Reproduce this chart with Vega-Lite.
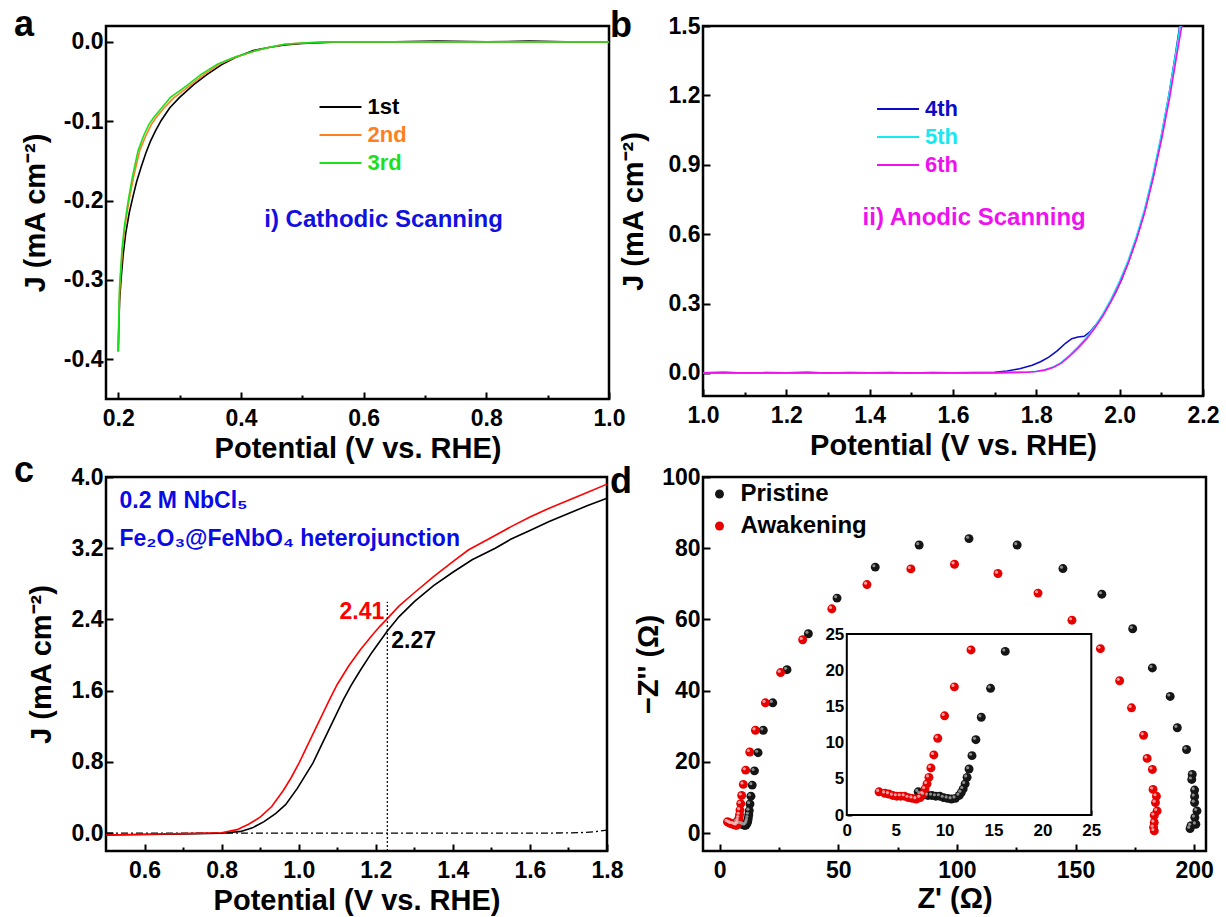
{
  "$schema": "https://vega.github.io/schema/vega-lite/v6.json",
  "background": "white",
  "padding": {"left": 12, "top": 5, "right": 10, "bottom": 5},
  "bounds": "flush",
  "columns": 2,
  "spacing": {"row": 78, "column": 94},
  "resolve": {"scale": {"color": "independent"}, "legend": {"color": "independent"}},
  "datasets": {
    "scanA": [
      {"E":0.200,"J":-0.390,"scan":"1st"},{"E":0.201,"J":-0.355,"scan":"1st"},{"E":0.2023,"J":-0.325,"scan":"1st"},{"E":0.2045,"J":-0.300,"scan":"1st"},{"E":0.208,"J":-0.268,"scan":"1st"},{"E":0.212,"J":-0.242,"scan":"1st"},{"E":0.218,"J":-0.215,"scan":"1st"},{"E":0.224,"J":-0.195,"scan":"1st"},{"E":0.230,"J":-0.176,"scan":"1st"},{"E":0.238,"J":-0.156,"scan":"1st"},{"E":0.245,"J":-0.140,"scan":"1st"},{"E":0.252,"J":-0.126,"scan":"1st"},{"E":0.260,"J":-0.113,"scan":"1st"},{"E":0.270,"J":-0.099,"scan":"1st"},{"E":0.284,"J":-0.083,"scan":"1st"},{"E":0.300,"J":-0.070,"scan":"1st"},{"E":0.323,"J":-0.054,"scan":"1st"},{"E":0.345,"J":-0.041,"scan":"1st"},{"E":0.368,"J":-0.029,"scan":"1st"},{"E":0.390,"J":-0.020,"scan":"1st"},{"E":0.420,"J":-0.011,"scan":"1st"},{"E":0.445,"J":-0.007,"scan":"1st"},{"E":0.471,"J":-0.004,"scan":"1st"},{"E":0.500,"J":-0.002,"scan":"1st"},{"E":0.530,"J":-0.001,"scan":"1st"},{"E":0.560,"J":0.000,"scan":"1st"},{"E":0.650,"J":0.000,"scan":"1st"},{"E":0.720,"J":0.001,"scan":"1st"},{"E":0.800,"J":0.000,"scan":"1st"},{"E":0.870,"J":0.001,"scan":"1st"},{"E":0.930,"J":0.000,"scan":"1st"},{"E":1.000,"J":0.000,"scan":"1st"},
      {"E":0.200,"J":-0.390,"scan":"2nd"},{"E":0.201,"J":-0.345,"scan":"2nd"},{"E":0.2022,"J":-0.315,"scan":"2nd"},{"E":0.204,"J":-0.292,"scan":"2nd"},{"E":0.2068,"J":-0.262,"scan":"2nd"},{"E":0.211,"J":-0.232,"scan":"2nd"},{"E":0.2175,"J":-0.200,"scan":"2nd"},{"E":0.225,"J":-0.170,"scan":"2nd"},{"E":0.235,"J":-0.137,"scan":"2nd"},{"E":0.245,"J":-0.118,"scan":"2nd"},{"E":0.254,"J":-0.104,"scan":"2nd"},{"E":0.262,"J":-0.095,"scan":"2nd"},{"E":0.274,"J":-0.084,"scan":"2nd"},{"E":0.290,"J":-0.071,"scan":"2nd"},{"E":0.315,"J":-0.056,"scan":"2nd"},{"E":0.340,"J":-0.041,"scan":"2nd"},{"E":0.365,"J":-0.028,"scan":"2nd"},{"E":0.392,"J":-0.019,"scan":"2nd"},{"E":0.420,"J":-0.012,"scan":"2nd"},{"E":0.445,"J":-0.007,"scan":"2nd"},{"E":0.471,"J":-0.003,"scan":"2nd"},{"E":0.500,"J":-0.0015,"scan":"2nd"},{"E":0.542,"J":0.000,"scan":"2nd"},{"E":0.600,"J":0.000,"scan":"2nd"},{"E":0.700,"J":0.000,"scan":"2nd"},{"E":0.800,"J":0.000,"scan":"2nd"},{"E":0.900,"J":0.000,"scan":"2nd"},{"E":1.000,"J":0.000,"scan":"2nd"},
      {"E":0.200,"J":-0.390,"scan":"3rd"},{"E":0.201,"J":-0.340,"scan":"3rd"},{"E":0.202,"J":-0.310,"scan":"3rd"},{"E":0.2035,"J":-0.292,"scan":"3rd"},{"E":0.206,"J":-0.262,"scan":"3rd"},{"E":0.210,"J":-0.232,"scan":"3rd"},{"E":0.2162,"J":-0.200,"scan":"3rd"},{"E":0.223,"J":-0.170,"scan":"3rd"},{"E":0.2323,"J":-0.137,"scan":"3rd"},{"E":0.242,"J":-0.117,"scan":"3rd"},{"E":0.250,"J":-0.104,"scan":"3rd"},{"E":0.258,"J":-0.095,"scan":"3rd"},{"E":0.270,"J":-0.084,"scan":"3rd"},{"E":0.285,"J":-0.070,"scan":"3rd"},{"E":0.310,"J":-0.056,"scan":"3rd"},{"E":0.335,"J":-0.041,"scan":"3rd"},{"E":0.3615,"J":-0.028,"scan":"3rd"},{"E":0.390,"J":-0.019,"scan":"3rd"},{"E":0.420,"J":-0.012,"scan":"3rd"},{"E":0.445,"J":-0.007,"scan":"3rd"},{"E":0.471,"J":-0.003,"scan":"3rd"},{"E":0.500,"J":-0.0015,"scan":"3rd"},{"E":0.542,"J":0.000,"scan":"3rd"},{"E":0.600,"J":0.000,"scan":"3rd"},{"E":0.700,"J":0.000,"scan":"3rd"},{"E":0.800,"J":0.000,"scan":"3rd"},{"E":0.900,"J":0.000,"scan":"3rd"},{"E":1.000,"J":0.000,"scan":"3rd"}
    ],
    "scanB": [
      {"E":1.00,"J":0.000,"scan":"4th"},{"E":1.05,"J":0.002,"scan":"4th"},{"E":1.10,"J":-0.001,"scan":"4th"},{"E":1.15,"J":0.001,"scan":"4th"},{"E":1.20,"J":0.000,"scan":"4th"},{"E":1.25,"J":0.002,"scan":"4th"},{"E":1.30,"J":-0.001,"scan":"4th"},{"E":1.35,"J":0.001,"scan":"4th"},{"E":1.40,"J":0.000,"scan":"4th"},{"E":1.45,"J":0.001,"scan":"4th"},{"E":1.50,"J":-0.001,"scan":"4th"},{"E":1.55,"J":0.001,"scan":"4th"},{"E":1.60,"J":0.000,"scan":"4th"},{"E":1.65,"J":0.001,"scan":"4th"},{"E":1.70,"J":0.003,"scan":"4th"},{"E":1.73,"J":0.008,"scan":"4th"},{"E":1.76,"J":0.018,"scan":"4th"},{"E":1.79,"J":0.033,"scan":"4th"},{"E":1.81,"J":0.048,"scan":"4th"},{"E":1.83,"J":0.068,"scan":"4th"},{"E":1.85,"J":0.095,"scan":"4th"},{"E":1.87,"J":0.128,"scan":"4th"},{"E":1.885,"J":0.148,"scan":"4th"},{"E":1.90,"J":0.155,"scan":"4th"},{"E":1.915,"J":0.158,"scan":"4th"},{"E":1.93,"J":0.180,"scan":"4th"},{"E":1.945,"J":0.212,"scan":"4th"},{"E":1.96,"J":0.252,"scan":"4th"},{"E":1.975,"J":0.297,"scan":"4th"},{"E":1.99,"J":0.347,"scan":"4th"},{"E":2.005,"J":0.405,"scan":"4th"},{"E":2.02,"J":0.475,"scan":"4th"},{"E":2.04,"J":0.580,"scan":"4th"},{"E":2.06,"J":0.700,"scan":"4th"},{"E":2.08,"J":0.845,"scan":"4th"},{"E":2.10,"J":1.020,"scan":"4th"},{"E":2.12,"J":1.220,"scan":"4th"},{"E":2.135,"J":1.390,"scan":"4th"},{"E":2.145,"J":1.510,"scan":"4th"},
      {"E":1.00,"J":0.000,"scan":"5th"},{"E":1.10,"J":0.000,"scan":"5th"},{"E":1.20,"J":0.000,"scan":"5th"},{"E":1.30,"J":0.000,"scan":"5th"},{"E":1.40,"J":0.000,"scan":"5th"},{"E":1.50,"J":0.000,"scan":"5th"},{"E":1.60,"J":0.000,"scan":"5th"},{"E":1.70,"J":0.000,"scan":"5th"},{"E":1.75,"J":0.002,"scan":"5th"},{"E":1.78,"J":0.004,"scan":"5th"},{"E":1.80,"J":0.007,"scan":"5th"},{"E":1.82,"J":0.013,"scan":"5th"},{"E":1.84,"J":0.025,"scan":"5th"},{"E":1.86,"J":0.045,"scan":"5th"},{"E":1.88,"J":0.077,"scan":"5th"},{"E":1.90,"J":0.113,"scan":"5th"},{"E":1.92,"J":0.152,"scan":"5th"},{"E":1.94,"J":0.200,"scan":"5th"},{"E":1.96,"J":0.256,"scan":"5th"},{"E":1.98,"J":0.322,"scan":"5th"},{"E":2.00,"J":0.398,"scan":"5th"},{"E":2.02,"J":0.485,"scan":"5th"},{"E":2.04,"J":0.590,"scan":"5th"},{"E":2.06,"J":0.710,"scan":"5th"},{"E":2.08,"J":0.860,"scan":"5th"},{"E":2.10,"J":1.030,"scan":"5th"},{"E":2.12,"J":1.220,"scan":"5th"},{"E":2.14,"J":1.440,"scan":"5th"},{"E":2.147,"J":1.520,"scan":"5th"},
      {"E":1.00,"J":0.000,"scan":"6th"},{"E":1.10,"J":0.000,"scan":"6th"},{"E":1.20,"J":0.000,"scan":"6th"},{"E":1.30,"J":0.000,"scan":"6th"},{"E":1.40,"J":0.000,"scan":"6th"},{"E":1.50,"J":0.000,"scan":"6th"},{"E":1.60,"J":0.000,"scan":"6th"},{"E":1.70,"J":0.000,"scan":"6th"},{"E":1.75,"J":0.002,"scan":"6th"},{"E":1.78,"J":0.003,"scan":"6th"},{"E":1.80,"J":0.006,"scan":"6th"},{"E":1.82,"J":0.012,"scan":"6th"},{"E":1.84,"J":0.023,"scan":"6th"},{"E":1.86,"J":0.042,"scan":"6th"},{"E":1.88,"J":0.072,"scan":"6th"},{"E":1.90,"J":0.107,"scan":"6th"},{"E":1.92,"J":0.146,"scan":"6th"},{"E":1.94,"J":0.193,"scan":"6th"},{"E":1.96,"J":0.247,"scan":"6th"},{"E":1.98,"J":0.311,"scan":"6th"},{"E":2.00,"J":0.386,"scan":"6th"},{"E":2.02,"J":0.472,"scan":"6th"},{"E":2.04,"J":0.575,"scan":"6th"},{"E":2.06,"J":0.693,"scan":"6th"},{"E":2.08,"J":0.840,"scan":"6th"},{"E":2.10,"J":1.005,"scan":"6th"},{"E":2.12,"J":1.190,"scan":"6th"},{"E":2.14,"J":1.405,"scan":"6th"},{"E":2.152,"J":1.530,"scan":"6th"}
    ],
    "jv": [
      {"E":0.5,"J":-0.02,"sample":"Pristine"},{"E":0.6,"J":-0.015,"sample":"Pristine"},{"E":0.7,"J":-0.008,"sample":"Pristine"},{"E":0.8,"J":0.0,"sample":"Pristine"},{"E":0.85,"J":0.02,"sample":"Pristine"},{"E":0.88,"J":0.06,"sample":"Pristine"},{"E":0.91,"J":0.13,"sample":"Pristine"},{"E":0.94,"J":0.22,"sample":"Pristine"},{"E":0.966,"J":0.32,"sample":"Pristine"},{"E":0.996,"J":0.5,"sample":"Pristine"},{"E":1.016,"J":0.64,"sample":"Pristine"},{"E":1.036,"J":0.78,"sample":"Pristine"},{"E":1.056,"J":0.96,"sample":"Pristine"},{"E":1.076,"J":1.14,"sample":"Pristine"},{"E":1.096,"J":1.32,"sample":"Pristine"},{"E":1.116,"J":1.5,"sample":"Pristine"},{"E":1.136,"J":1.66,"sample":"Pristine"},{"E":1.16,"J":1.83,"sample":"Pristine"},{"E":1.19,"J":2.03,"sample":"Pristine"},{"E":1.21,"J":2.15,"sample":"Pristine"},{"E":1.23,"J":2.27,"sample":"Pristine"},{"E":1.26,"J":2.43,"sample":"Pristine"},{"E":1.3,"J":2.6,"sample":"Pristine"},{"E":1.35,"J":2.78,"sample":"Pristine"},{"E":1.4,"J":2.93,"sample":"Pristine"},{"E":1.45,"J":3.07,"sample":"Pristine"},{"E":1.51,"J":3.2,"sample":"Pristine"},{"E":1.55,"J":3.3,"sample":"Pristine"},{"E":1.6,"J":3.4,"sample":"Pristine"},{"E":1.65,"J":3.5,"sample":"Pristine"},{"E":1.7,"J":3.59,"sample":"Pristine"},{"E":1.75,"J":3.68,"sample":"Pristine"},{"E":1.8,"J":3.76,"sample":"Pristine"},
      {"E":0.5,"J":-0.02,"sample":"Awakening"},{"E":0.6,"J":-0.012,"sample":"Awakening"},{"E":0.7,"J":-0.005,"sample":"Awakening"},{"E":0.8,"J":0.005,"sample":"Awakening"},{"E":0.84,"J":0.04,"sample":"Awakening"},{"E":0.87,"J":0.1,"sample":"Awakening"},{"E":0.9,"J":0.18,"sample":"Awakening"},{"E":0.93,"J":0.3,"sample":"Awakening"},{"E":0.96,"J":0.48,"sample":"Awakening"},{"E":0.98,"J":0.62,"sample":"Awakening"},{"E":1.0,"J":0.78,"sample":"Awakening"},{"E":1.02,"J":0.96,"sample":"Awakening"},{"E":1.04,"J":1.14,"sample":"Awakening"},{"E":1.06,"J":1.32,"sample":"Awakening"},{"E":1.08,"J":1.5,"sample":"Awakening"},{"E":1.1,"J":1.67,"sample":"Awakening"},{"E":1.13,"J":1.88,"sample":"Awakening"},{"E":1.16,"J":2.06,"sample":"Awakening"},{"E":1.19,"J":2.22,"sample":"Awakening"},{"E":1.21,"J":2.32,"sample":"Awakening"},{"E":1.23,"J":2.41,"sample":"Awakening"},{"E":1.26,"J":2.55,"sample":"Awakening"},{"E":1.3,"J":2.7,"sample":"Awakening"},{"E":1.35,"J":2.88,"sample":"Awakening"},{"E":1.4,"J":3.05,"sample":"Awakening"},{"E":1.44,"J":3.18,"sample":"Awakening"},{"E":1.5,"J":3.32,"sample":"Awakening"},{"E":1.55,"J":3.44,"sample":"Awakening"},{"E":1.6,"J":3.55,"sample":"Awakening"},{"E":1.65,"J":3.65,"sample":"Awakening"},{"E":1.7,"J":3.74,"sample":"Awakening"},{"E":1.75,"J":3.83,"sample":"Awakening"},{"E":1.8,"J":3.92,"sample":"Awakening"}
    ],
    "dark": [
      {"E":0.5,"J":0.0},{"E":0.8,"J":0.0},{"E":1.0,"J":0.0},{"E":1.2,"J":0.0},{"E":1.4,"J":0.0},{"E":1.6,"J":0.0},{"E":1.7,"J":0.003},{"E":1.74,"J":0.008},{"E":1.77,"J":0.018},{"E":1.8,"J":0.035}
    ],
    "eis": [
      {"re":7.3,"im":3.2,"sample":"Pristine"},{"re":7.5,"im":2.9,"sample":"Pristine"},{"re":7.9,"im":2.8,"sample":"Pristine"},{"re":8.3,"im":2.7,"sample":"Pristine"},{"re":8.7,"im":2.7,"sample":"Pristine"},{"re":9.1,"im":2.6,"sample":"Pristine"},{"re":9.5,"im":2.6,"sample":"Pristine"},{"re":9.9,"im":2.4,"sample":"Pristine"},{"re":10.3,"im":2.3,"sample":"Pristine"},{"re":10.7,"im":2.2,"sample":"Pristine"},{"re":11.1,"im":2.3,"sample":"Pristine"},{"re":11.5,"im":2.7,"sample":"Pristine"},{"re":11.7,"im":3.1,"sample":"Pristine"},{"re":11.9,"im":3.6,"sample":"Pristine"},{"re":12.1,"im":4.3,"sample":"Pristine"},{"re":12.3,"im":5.2,"sample":"Pristine"},{"re":12.5,"im":6.35,"sample":"Pristine"},{"re":12.8,"im":8.2,"sample":"Pristine"},{"re":13.2,"im":10.4,"sample":"Pristine"},{"re":13.75,"im":13.5,"sample":"Pristine"},{"re":14.7,"im":17.5,"sample":"Pristine"},{"re":16.2,"im":22.6,"sample":"Pristine"},{"re":18.4,"im":28.9,"sample":"Pristine"},{"re":22.4,"im":36.6,"sample":"Pristine"},{"re":28.4,"im":45.9,"sample":"Pristine"},{"re":37.4,"im":56.0,"sample":"Pristine"},{"re":49.5,"im":66.0,"sample":"Pristine"},{"re":65.6,"im":74.7,"sample":"Pristine"},{"re":84.1,"im":80.9,"sample":"Pristine"},{"re":105.1,"im":82.7,"sample":"Pristine"},{"re":125.4,"im":80.9,"sample":"Pristine"},{"re":144.7,"im":74.3,"sample":"Pristine"},{"re":161.1,"im":67.1,"sample":"Pristine"},{"re":174.1,"im":57.4,"sample":"Pristine"},{"re":182.4,"im":46.4,"sample":"Pristine"},{"re":189.9,"im":38.4,"sample":"Pristine"},{"re":192.9,"im":29.6,"sample":"Pristine"},{"re":196.8,"im":23.5,"sample":"Pristine"},{"re":199.2,"im":16.5,"sample":"Pristine"},{"re":199.0,"im":15.1,"sample":"Pristine"},{"re":200.2,"im":12.1,"sample":"Pristine"},{"re":200.2,"im":10.3,"sample":"Pristine"},{"re":200.2,"im":8.6,"sample":"Pristine"},{"re":201.2,"im":6.25,"sample":"Pristine"},{"re":200.3,"im":4.4,"sample":"Pristine"},{"re":200.7,"im":2.5,"sample":"Pristine"},{"re":198.7,"im":2.1,"sample":"Pristine"},{"re":198.3,"im":1.3,"sample":"Pristine"},
      {"re":3.3,"im":3.2,"sample":"Awakening"},{"re":3.9,"im":3.0,"sample":"Awakening"},{"re":4.3,"im":2.9,"sample":"Awakening"},{"re":4.7,"im":2.7,"sample":"Awakening"},{"re":5.1,"im":2.6,"sample":"Awakening"},{"re":5.5,"im":2.6,"sample":"Awakening"},{"re":5.9,"im":2.6,"sample":"Awakening"},{"re":6.3,"im":2.4,"sample":"Awakening"},{"re":6.7,"im":2.3,"sample":"Awakening"},{"re":7.1,"im":2.2,"sample":"Awakening"},{"re":7.5,"im":2.4,"sample":"Awakening"},{"re":7.8,"im":2.9,"sample":"Awakening"},{"re":8.0,"im":3.6,"sample":"Awakening"},{"re":8.2,"im":4.3,"sample":"Awakening"},{"re":8.4,"im":5.2,"sample":"Awakening"},{"re":8.6,"im":6.5,"sample":"Awakening"},{"re":8.9,"im":8.3,"sample":"Awakening"},{"re":9.3,"im":10.6,"sample":"Awakening"},{"re":10.0,"im":13.7,"sample":"Awakening"},{"re":11.0,"im":17.7,"sample":"Awakening"},{"re":12.7,"im":22.8,"sample":"Awakening"},{"re":15.1,"im":28.9,"sample":"Awakening"},{"re":19.3,"im":36.6,"sample":"Awakening"},{"re":25.7,"im":45.1,"sample":"Awakening"},{"re":35.0,"im":54.3,"sample":"Awakening"},{"re":47.3,"im":63.0,"sample":"Awakening"},{"re":62.1,"im":69.8,"sample":"Awakening"},{"re":80.6,"im":74.2,"sample":"Awakening"},{"re":99.0,"im":75.5,"sample":"Awakening"},{"re":117.3,"im":72.9,"sample":"Awakening"},{"re":134.2,"im":67.4,"sample":"Awakening"},{"re":148.5,"im":59.8,"sample":"Awakening"},{"re":160.5,"im":51.8,"sample":"Awakening"},{"re":168.6,"im":42.8,"sample":"Awakening"},{"re":173.6,"im":35.2,"sample":"Awakening"},{"re":178.7,"im":27.5,"sample":"Awakening"},{"re":180.2,"im":21.0,"sample":"Awakening"},{"re":182.4,"im":17.9,"sample":"Awakening"},{"re":182.7,"im":12.3,"sample":"Awakening"},{"re":184.1,"im":10.4,"sample":"Awakening"},{"re":183.7,"im":8.6,"sample":"Awakening"},{"re":184.4,"im":6.25,"sample":"Awakening"},{"re":183.2,"im":5.0,"sample":"Awakening"},{"re":183.2,"im":3.0,"sample":"Awakening"},{"re":182.9,"im":1.6,"sample":"Awakening"},{"re":183.2,"im":0.65,"sample":"Awakening"}
    ]
  },
  "concat": [
    {
      "width": 503,
      "height": 373,
      "title": {"text": "a", "dx": -92, "offset": -18},
      "layer": [
        {
          "data": {"name": "scanA"},
          "mark": {"type": "line", "strokeWidth": 1.6, "clip": true},
          "encoding": {
            "x": {"field": "E", "type": "quantitative", "scale": {"domain": [0.18, 1.0], "nice": false, "zero": false},
                  "axis": {"orient": "bottom", "values": [0.2, 0.4, 0.6, 0.8, 1.0], "format": ".1f", "title": "Potential (V vs. RHE)", "titleY": 58, "titleBaseline": "alphabetic"}},
            "y": {"field": "J", "type": "quantitative", "scale": {"domain": [-0.45, 0.02], "nice": false, "zero": false},
                  "axis": {"orient": "left", "values": [0, -0.1, -0.2, -0.3, -0.4], "labelExpr": "replace(format(datum.value, '.1f'), '\u2212', '-')", "title": "J (mA cm⁻²)", "titleX": -62, "titleBaseline": "alphabetic"}},
            "color": {"field": "scan", "type": "nominal",
                      "scale": {"domain": ["1st", "2nd", "3rd"], "range": ["#000000", "#ff7f1e", "#1edf1e"]},
                      "legend": {"orient": "none", "legendX": 223.5, "legendY": 70, "title": null,
                                 "symbolType": "M -4 0 L 4 0", "symbolSize": 110, "symbolStrokeWidth": 2,
                                 "labelFontSize": 22, "labelOffset": 16, "rowPadding": 6,
                                 "encode": {"labels": {"update": {"fill": {"signal": "datum.label === '1st' ? '#000000' : datum.label === '2nd' ? '#ff7f1e' : '#1edf1e'"}}}}}}
          }
        },
        {
          "data": {"values": [{}]},
          "mark": {"type": "text", "text": "i) Cathodic Scanning", "align": "left", "baseline": "middle", "fontSize": 24, "color": "#1010e0"},
          "encoding": {
            "x": {"datum": 0.438, "type": "quantitative", "scale": {"domain": [0.18, 1.0], "nice": false, "zero": false},
                  "axis": {"orient": "bottom", "values": [0.3, 0.5, 0.7, 0.9], "labels": false, "tickSize": -4, "title": null}},
            "y": {"datum": -0.225, "type": "quantitative", "scale": {"domain": [-0.45, 0.02], "nice": false, "zero": false}, "axis": null}
          }
        }
      ],
      "resolve": {"axis": {"x": "independent", "y": "independent"}}
    },
    {
      "width": 500,
      "height": 370,
      "title": {"text": "b", "dx": -93, "offset": -30},
      "layer": [
        {
          "data": {"name": "scanB"},
          "mark": {"type": "line", "strokeWidth": 1.6, "clip": true},
          "encoding": {
            "x": {"field": "E", "type": "quantitative", "scale": {"domain": [1.0, 2.2], "nice": false, "zero": false},
                  "axis": {"orient": "bottom", "values": [1.0, 1.2, 1.4, 1.6, 1.8, 2.0, 2.2], "format": ".1f", "title": "Potential (V vs. RHE)", "titleY": 58, "titleBaseline": "alphabetic"}},
            "y": {"field": "J", "type": "quantitative", "scale": {"domain": [-0.1, 1.5], "nice": false, "zero": false},
                  "axis": {"orient": "left", "values": [0, 0.3, 0.6, 0.9, 1.2, 1.5], "format": ".1f", "title": "J (mA cm⁻²)", "titleX": -61, "titleBaseline": "alphabetic"}},
            "color": {"field": "scan", "type": "nominal",
                      "scale": {"domain": ["4th", "5th", "6th"], "range": ["#0c0cc8", "#18e8f0", "#ef12ef"]},
                      "legend": {"orient": "none", "legendX": 184, "legendY": 72, "title": null,
                                 "symbolType": "M -4 0 L 4 0", "symbolSize": 110, "symbolStrokeWidth": 2,
                                 "labelFontSize": 22, "labelOffset": 16, "rowPadding": 6,
                                 "encode": {"labels": {"update": {"fill": {"signal": "datum.label === '4th' ? '#0c0cc8' : datum.label === '5th' ? '#18e8f0' : '#ef12ef'"}}}}}}
          }
        },
        {
          "data": {"values": [{}]},
          "mark": {"type": "text", "text": "ii) Anodic Scanning", "align": "left", "baseline": "middle", "fontSize": 24, "color": "#ef12ef"},
          "encoding": {
            "x": {"datum": 1.383, "type": "quantitative", "scale": {"domain": [1.0, 2.2], "nice": false, "zero": false},
                  "axis": {"orient": "bottom", "values": [1.1, 1.3, 1.5, 1.7, 1.9, 2.1], "labels": false, "tickSize": -4, "title": null}},
            "y": {"datum": 0.668, "type": "quantitative", "scale": {"domain": [-0.1, 1.5], "nice": false, "zero": false}, "axis": null}
          }
        }
      ],
      "resolve": {"axis": {"x": "independent", "y": "independent"}}
    },
    {
      "width": 501,
      "height": 374,
      "title": {"text": "c", "dx": -92, "offset": -24},
      "layer": [
        {
          "data": {"name": "dark"},
          "mark": {"type": "line", "strokeWidth": 1.3, "color": "#000000", "strokeDash": [7, 3, 2, 3]},
          "encoding": {
            "x": {"field": "E", "type": "quantitative", "scale": {"domain": [0.5, 1.8], "nice": false, "zero": false},
                  "axis": {"orient": "bottom", "values": [0.7, 0.9, 1.1, 1.3, 1.5, 1.7], "labels": false, "tickSize": -4, "title": null}},
            "y": {"field": "J", "type": "quantitative", "scale": {"domain": [-0.2, 4.0], "nice": false, "zero": false}, "axis": null}
          }
        },
        {
          "data": {"name": "jv"},
          "mark": {"type": "line", "strokeWidth": 1.6},
          "encoding": {
            "x": {"field": "E", "type": "quantitative", "scale": {"domain": [0.5, 1.8], "nice": false, "zero": false},
                  "axis": {"orient": "bottom", "values": [0.6, 0.8, 1.0, 1.2, 1.4, 1.6, 1.8], "format": ".1f", "title": "Potential (V vs. RHE)", "titleY": 58, "titleBaseline": "alphabetic"}},
            "y": {"field": "J", "type": "quantitative", "scale": {"domain": [-0.2, 4.0], "nice": false, "zero": false},
                  "axis": {"orient": "left", "values": [0, 0.8, 1.6, 2.4, 3.2, 4.0], "format": ".1f", "title": "J (mA cm⁻²)", "titleX": -56, "titleBaseline": "alphabetic"}},
            "color": {"field": "sample", "type": "nominal", "scale": {"domain": ["Pristine", "Awakening"], "range": ["#000000", "#ff0000"]}, "legend": null}
          }
        },
        {
          "data": {"values": [{}]},
          "mark": {"type": "rule", "strokeWidth": 1.2, "strokeDash": [2, 2], "color": "#000000"},
          "encoding": {
            "x": {"datum": 1.23, "type": "quantitative", "scale": {"domain": [0.5, 1.8], "nice": false, "zero": false}, "axis": null},
            "y": {"datum": -0.2, "type": "quantitative", "scale": {"domain": [-0.2, 4.0], "nice": false, "zero": false}, "axis": null},
            "y2": {"datum": 2.6}
          }
        },
        {
          "data": {"name": "jv"},
          "transform": [{"filter": "datum.E === 1.23 && datum.sample === 'Awakening'"}],
          "mark": {"type": "text", "align": "right", "baseline": "middle", "dx": -3, "dy": -7, "fontSize": 23, "color": "#ff0000"},
          "encoding": {
            "x": {"field": "E", "type": "quantitative", "scale": {"domain": [0.5, 1.8], "nice": false, "zero": false}, "axis": null},
            "y": {"field": "J", "type": "quantitative", "scale": {"domain": [-0.2, 4.0], "nice": false, "zero": false}, "axis": null},
            "text": {"field": "J", "type": "quantitative", "format": ".2f"}
          }
        },
        {
          "data": {"name": "jv"},
          "transform": [{"filter": "datum.E === 1.23 && datum.sample === 'Pristine'"}],
          "mark": {"type": "text", "align": "left", "baseline": "middle", "dx": 4, "dy": 10, "fontSize": 23, "color": "#000000"},
          "encoding": {
            "x": {"field": "E", "type": "quantitative", "scale": {"domain": [0.5, 1.8], "nice": false, "zero": false}, "axis": null},
            "y": {"field": "J", "type": "quantitative", "scale": {"domain": [-0.2, 4.0], "nice": false, "zero": false}, "axis": null},
            "text": {"field": "J", "type": "quantitative", "format": ".2f"}
          }
        },
        {
          "data": {"values": [{}]},
          "mark": {"type": "text", "text": "0.2 M NbCl₅", "align": "left", "baseline": "middle", "fontSize": 23, "color": "#0a0ae6"},
          "encoding": {
            "x": {"datum": 0.535, "type": "quantitative", "scale": {"domain": [0.5, 1.8], "nice": false, "zero": false}, "axis": null},
            "y": {"datum": 3.73, "type": "quantitative", "scale": {"domain": [-0.2, 4.0], "nice": false, "zero": false}, "axis": null}
          }
        },
        {
          "data": {"values": [{}]},
          "mark": {"type": "text", "text": "Fe₂O₃@FeNbO₄ heterojunction", "align": "left", "baseline": "middle", "fontSize": 23, "color": "#0a0ae6"},
          "encoding": {
            "x": {"datum": 0.535, "type": "quantitative", "scale": {"domain": [0.5, 1.8], "nice": false, "zero": false}, "axis": null},
            "y": {"datum": 3.3, "type": "quantitative", "scale": {"domain": [-0.2, 4.0], "nice": false, "zero": false}, "axis": null}
          }
        }
      ],
      "resolve": {"axis": {"x": "independent", "y": "independent"}}
    },
    {
      "width": 503,
      "height": 374,
      "title": {"text": "d", "dx": -93, "offset": -35},
      "layer": [
        {
          "data": {"name": "eis"},
          "mark": {"type": "circle", "size": 80, "opacity": 1},
          "encoding": {
            "x": {"field": "re", "type": "quantitative", "scale": {"domain": [-7, 205], "nice": false, "zero": false},
                  "axis": {"orient": "bottom", "values": [0, 50, 100, 150, 200], "format": "d", "title": "Z' (Ω)", "titleY": 56, "titleBaseline": "alphabetic"}},
            "y": {"field": "im", "type": "quantitative", "scale": {"domain": [-5, 100], "nice": false, "zero": false},
                  "axis": {"orient": "left", "values": [0, 20, 40, 60, 80, 100], "format": "d", "title": "−Z'' (Ω)", "titleX": -46, "titleBaseline": "alphabetic"}},
            "color": {"field": "sample", "type": "nominal",
                      "scale": {"domain": ["Pristine", "Awakening"], "range": ["#151515", "#e60000"]},
                      "legend": {"orient": "none", "legendX": 4.5, "legendY": 5, "title": null, "symbolType": "circle", "symbolSize": 80,
                                 "labelFontSize": 24, "labelOffset": 9, "rowPadding": 8,
                                 "encode": {"labels": {"update": {"fill": {"signal": "datum.label === 'Pristine' ? '#000000' : '#ff0000'"}}}}}}
          }
        },
        {
          "data": {"name": "eis"},
          "mark": {"type": "circle", "size": 10, "opacity": 0.9, "xOffset": -1.4, "yOffset": -1.4},
          "encoding": {
            "x": {"field": "re", "type": "quantitative", "scale": {"domain": [-7, 205], "nice": false, "zero": false},
                  "axis": {"orient": "bottom", "values": [25, 75, 125, 175], "labels": false, "tickSize": -4, "title": null}},
            "y": {"field": "im", "type": "quantitative", "scale": {"domain": [-5, 100], "nice": false, "zero": false}, "axis": null},
            "fill": {"condition": {"test": "datum.sample === 'Pristine'", "value": "#9a9a9a"}, "value": "#ffb0b0"}
          }
        },
        {
          "data": {"values": [{}]},
          "mark": {"type": "rect", "fill": "#ffffff", "stroke": "#000000", "strokeWidth": 2},
          "encoding": {
            "x": {"datum": 0, "type": "quantitative", "scale": {"domain": [0, 25], "range": [143.8, 388.3], "nice": false, "zero": false}, "axis": null},
            "x2": {"datum": 25},
            "y": {"datum": 0, "type": "quantitative", "scale": {"domain": [0, 25], "range": [338, 157], "nice": false, "zero": false}, "axis": null},
            "y2": {"datum": 25}
          }
        },
        {
          "data": {"name": "eis"},
          "transform": [{"filter": "datum.re <= 25 && datum.im <= 25"}],
          "mark": {"type": "circle", "size": 80, "opacity": 1},
          "encoding": {
            "x": {"field": "re", "type": "quantitative", "scale": {"domain": [0, 25], "range": [143.8, 388.3], "nice": false, "zero": false},
                  "axis": {"orient": "bottom", "offset": -36, "values": [0, 5, 10, 15, 20, 25], "format": "d", "labelFontSize": 17, "tickSize": -5, "labelPadding": 12, "title": null}},
            "y": {"field": "im", "type": "quantitative", "scale": {"domain": [0, 25], "range": [338, 157], "nice": false, "zero": false},
                  "axis": {"orient": "left", "offset": -143.8, "values": [0, 5, 10, 15, 20, 25], "format": "d", "labelFontSize": 17, "tickSize": -5, "labelPadding": 8, "title": null}},
            "color": {"field": "sample", "type": "nominal", "scale": {"domain": ["Pristine", "Awakening"], "range": ["#151515", "#e60000"]}, "legend": null}
          }
        },
        {
          "data": {"name": "eis"},
          "transform": [{"filter": "datum.re <= 25 && datum.im <= 25"}],
          "mark": {"type": "circle", "size": 10, "opacity": 0.9, "xOffset": -1.4, "yOffset": -1.4},
          "encoding": {
            "x": {"field": "re", "type": "quantitative", "scale": {"domain": [0, 25], "range": [143.8, 388.3], "nice": false, "zero": false}, "axis": null},
            "y": {"field": "im", "type": "quantitative", "scale": {"domain": [0, 25], "range": [338, 157], "nice": false, "zero": false}, "axis": null},
            "fill": {"condition": {"test": "datum.sample === 'Pristine'", "value": "#9a9a9a"}, "value": "#ffb0b0"}
          }
        }
      ],
      "resolve": {"scale": {"x": "independent", "y": "independent"}, "axis": {"x": "independent", "y": "independent"}}
    }
  ],
  "config": {
    "font": "Liberation Sans",
    "view": {"stroke": "#000000", "strokeWidth": 2.5},
    "axis": {
      "domain": false,
      "grid": false,
      "ticks": true,
      "tickColor": "#000000",
      "tickWidth": 2,
      "tickSize": -7,
      "labelFont": "Liberation Sans",
      "labelFontSize": 23,
      "labelFontWeight": "bold",
      "labelColor": "#000000",
      "labelPadding": 10,
      "labelFlush": false,
      "labelOverlap": false,
      "titleFont": "Liberation Sans",
      "titleFontSize": 29,
      "titleFontWeight": "bold",
      "titleColor": "#000000"
    },
    "axisX": {"labelPadding": 15},
    "legend": {"labelFont": "Liberation Sans", "labelFontWeight": "bold", "padding": 0},
    "title": {"font": "Liberation Sans", "fontSize": 36, "fontWeight": "bold", "color": "#000000", "anchor": "start", "frame": "group", "baseline": "alphabetic"},
    "text": {"font": "Liberation Sans", "fontWeight": "bold"}
  }
}
